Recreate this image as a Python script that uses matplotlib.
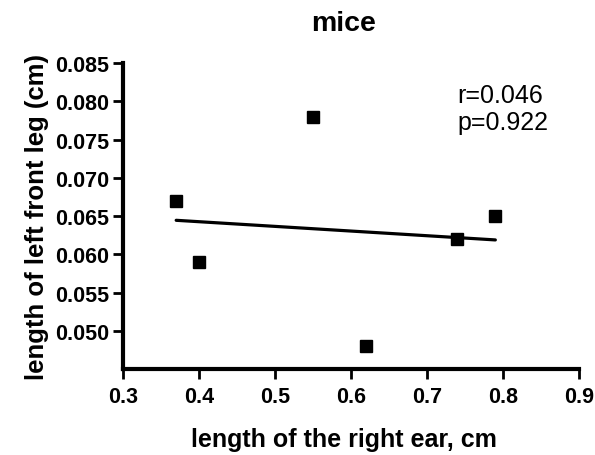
import numpy as np
import matplotlib

matplotlib.use("Agg")
import matplotlib.pyplot as plt

# values
ear_len = [0.37, 0.40, 0.55, 0.62, 0.74, 0.79]
leg_len = [0.067, 0.059, 0.078, 0.048, 0.062, 0.065]
x_ticks = [0.3, 0.4, 0.5, 0.6, 0.7, 0.8, 0.9]
y_ticks = [0.050, 0.055, 0.060, 0.065, 0.070, 0.075, 0.080, 0.085]
stats_text = "r=0.046\np=0.922"

plt.rcParams.update({
    "font.family": ["Liberation Sans", "DejaVu Sans"],
})

fig = plt.figure(figsize=(5.95, 4.56), dpi=100)
ax = fig.add_axes([0.2067, 0.1886, 0.7663, 0.671])

ax.plot(ear_len, leg_len, "s", color="black", markersize=9, linestyle="none")

# linear fit over the data range
slope, intercept = np.polyfit(ear_len, leg_len, 1)
xs = np.array([min(ear_len), max(ear_len)])
ax.plot(xs, slope * xs + intercept, color="black", lw=2.3, solid_capstyle="round")

ax.set_xlim(0.3, 0.9)
ax.set_ylim(0.045, 0.085)
ax.set_xticks(x_ticks)
ax.set_xticklabels([f"{v:.1f}" for v in x_ticks])
ax.set_yticks(y_ticks)
ax.set_yticklabels([f"{v:.3f}" for v in y_ticks])

for side in ("top", "right"):
    ax.spines[side].set_visible(False)
for side in ("left", "bottom"):
    ax.spines[side].set_linewidth(3)
ax.tick_params(direction="out", length=7, width=2, labelsize=15.5, pad=3)
ax.tick_params(axis="x", pad=5)
for lbl in ax.get_xticklabels() + ax.get_yticklabels():
    lbl.set_fontweight("bold")

# title and x label sit a little left of the axes centre in the original
ax.set_title("mice", fontsize=20.5, fontweight="bold", pad=24, x=0.484)
ax.set_xlabel("length of the right ear, cm", fontsize=18, fontweight="bold", labelpad=15, x=0.484)
ax.set_ylabel("length of left front leg (cm)", fontsize=18.5, fontweight="bold", labelpad=4)

ax.text(0.74, 0.0791, stats_text, fontsize=18, ha="left", va="center", linespacing=1.15)

fig.savefig("out.png", dpi=100)
